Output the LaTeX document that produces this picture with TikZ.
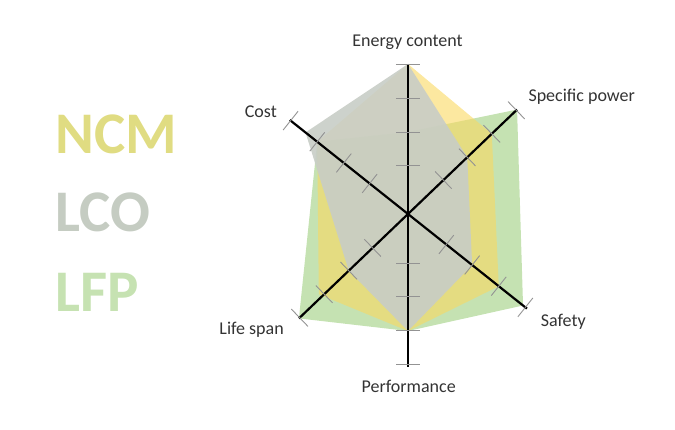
\documentclass[tikz,border=0pt]{standalone}
\usepackage{fontspec}
\setmainfont{Carlito}
\usetikzlibrary{calc}
\definecolor{ncmfill}{RGB}{250,217,97}
\definecolor{lcofill}{RGB}{200,205,198}
\definecolor{lfpfill}{RGB}{197,226,178}
\definecolor{ncmtext}{RGB}{224,220,130}
\definecolor{lcotext}{RGB}{197,204,194}
\definecolor{lfptext}{RGB}{198,226,178}
\tikzset{
  axis/.style={line width=2.2pt,black},
  tickmark/.style={line width=0.9pt,gray!85},
  lab/.style={inner sep=0pt,font=\fontsize{18}{20}\selectfont,text=black!80},
  legend/.style={inner sep=0pt,font=\fontsize{59}{64}\selectfont\bfseries,anchor=base west},
}
\begin{document}
\begin{tikzpicture}[x=1pt,y=1pt]
  \useasboundingbox (-408,-216) rectangle (267,214);
  % axes
  \coordinate (O) at (0,0);
  \coordinate (Energy) at (90:150);
  \coordinate (Power) at (43.75:151);
  \coordinate (Safety) at (-38.5:152);
  \coordinate (Performance) at (-90:153);
  \coordinate (Life) at (223.75:151);
  \coordinate (Cost) at (141.5:151);
  % LFP, NCM, LCO
  \fill[lfpfill] (90:82) -- (43.75:151) -- (-38.5:147) -- (-90:117) -- (223.75:151) -- (141.5:116) -- cycle;
  \fill[ncmfill,fill opacity=.6] (90:150) -- (43.75:116) -- (-38.5:116) -- (-90:117) -- (222:120) -- (141.5:116) -- cycle;
  \fill[lcofill,fill opacity=.9] (90:150) -- (43.75:82) -- (-38.5:82) -- (-90:117) -- (223.75:82) -- (141.5:131) -- cycle;
  \draw[axis] (Energy) -- (Performance);
  \draw[axis] (Life) -- (Power);
  \draw[axis] (Cost) -- (Safety);
  \foreach \a in {90,43.75,-38.5,-90,223.75,141.5}
    \foreach \r in {49,82,116,150}
      \draw[tickmark] ($(O)+(\a:\r)+(\a+90:12)$) -- ($(O)+(\a:\r)+(\a-90:12)$);
  % labels
  \node[lab,anchor=base] (EnergyLbl) at (-0.5,167.3) {Energy content};
  \node[lab,anchor=base west] (PowerLbl) at (120.3,112) {Specific power};
  \node[lab,anchor=base west] (SafetyLbl) at (132.7,-112.7) {Safety};
  \node[lab,anchor=base] (PerformanceLbl) at (0.7,-178.3) {Performance};
  \node[lab,anchor=base east] (LifeLbl) at (-124,-121) {Life span};
  \node[lab,anchor=base east] (CostLbl) at (-131,96) {Cost};
  % legend
  \node[legend,text=ncmtext] (NCM) at (-353,60) {NCM};
  \node[legend,text=lcotext] (LCO) at (-353,-17.7) {LCO};
  \node[legend,text=lfptext] (LFP) at (-353,-97.7) {LFP};
\end{tikzpicture}
\end{document}
